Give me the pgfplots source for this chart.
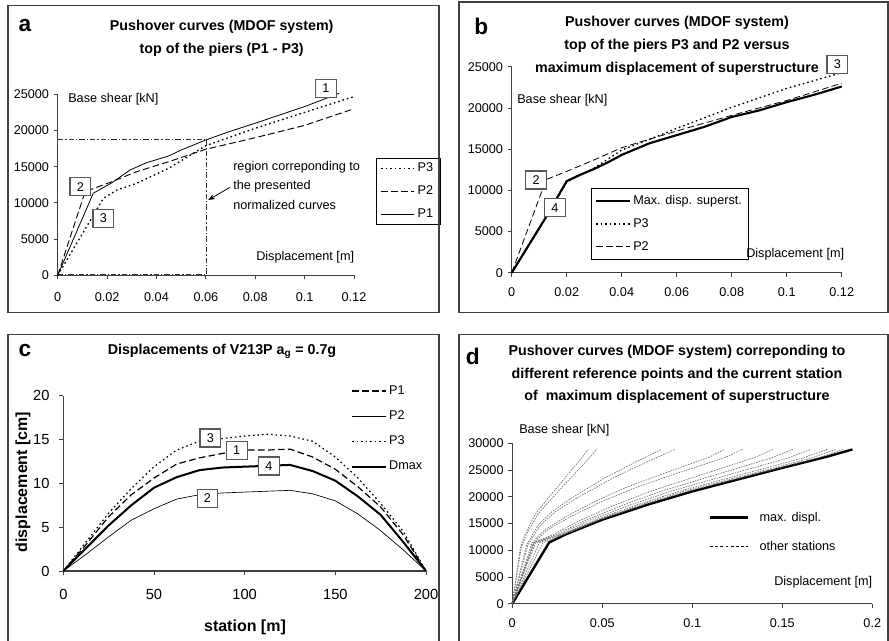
\documentclass[border=0pt]{standalone}
\usepackage{fontspec}
\setmainfont{Liberation Sans}
\usepackage{pgfplots}
\pgfplotsset{compat=1.18}
\usetikzlibrary{arrows.meta}

\newcommand\tk{\fontsize{9.5}{11}\selectfont}
\newcommand\tkc{\fontsize{11}{13}\selectfont}
\newcommand\ttl{\fontsize{10.7}{17}\selectfont\bfseries}
\newcommand\lett{\fontsize{17}{20}\selectfont\bfseries}

\pgfplotsset{
  panel/.style={
    scale only axis, anchor=south west,
    axis x line=bottom, axis y line=left,
    axis line style={-, line width=0.8pt, black!75},
    tick style={line width=0.6pt, black!75},
    tick align=outside,
    major tick length=3pt,
    enlargelimits=false,
    clip=false,
    scaled x ticks=false, scaled y ticks=false,
    tick label style={font=\tk, text=black},
    legend cell align=left,
    legend image code/.code={\draw[##1] (0pt,0pt) -- (25pt,0pt);},
  },
  other/.style={black!55, line width=0.5pt, dash pattern=on 1.2pt off 0.8pt, forget plot},
  dleg/.style={legend image code/.code={\draw[##1] (0pt,0pt) -- (28.5pt,0pt); \path (34pt,0pt);}},
}
\tikzset{boxlab/.style={draw=black!65, fill=white, line width=0.8pt, minimum width=15.5pt, minimum height=13.5pt, inner sep=0pt, font=\tk}}

\begin{document}
\begin{tikzpicture}

% ---------------- panel a ----------------
\begin{axis}[panel, at={(43.3pt,274.3pt)}, width=222.2pt, height=135.75pt,
  xmin=0, xmax=0.12, ymin=0, ymax=25000,
  xtick={0,0.02,0.04,0.06,0.08,0.1,0.12}, xticklabels={0,0.02,0.04,0.06,0.08,0.1,0.12},
  ytick={0,5000,10000,15000,20000,25000}, yticklabels={0,5000,10000,15000,20000,25000},
  xticklabel style={yshift=-6.8pt},
  legend style={at={(1.0743,0.648)}, anchor=north west, draw=black, line width=0.6pt, fill=white, font=\tk, row sep=5pt, inner xsep=3pt, inner ysep=1.5pt},
]
\addplot[black, line width=1pt, dash pattern=on 1.2pt off 2.2pt] coordinates {
 (0,0) (0.0185,10630) (0.024,11780) (0.032,12710) (0.045,14780) (0.06,17900) (0.08,20300) (0.1,22500) (0.12,24680)};
\addlegendentry{P3}
\addplot[black, line width=0.7pt, dash pattern=on 5pt off 2.5pt] coordinates {
 (0,0) (0.0111,11550) (0.022,12930) (0.032,14310) (0.045,15690) (0.06,17400) (0.08,19000) (0.1,20700) (0.12,23000)};
\addlegendentry{P2}
\addplot[black, line width=0.6pt] coordinates {
 (0,0) (0.0144,11330) (0.022,12790) (0.0293,14540) (0.036,15550) (0.045,16480) (0.05,17300) (0.06,18690) (0.07,19900) (0.08,21000) (0.09,22150) (0.1,23300) (0.11,24600) (0.114,25140)};
\addlegendentry{P1}
\addplot[black!80, line width=0.6pt, dash pattern=on 4pt off 1.5pt on 1pt off 1.5pt, forget plot] coordinates {
 (0,140) (0.0603,140) (0.0603,18700) (0,18700) (0,140)};
\end{axis}

% ---------------- panel b ----------------
\begin{axis}[panel, at={(383.8pt,276.2pt)}, width=247.5pt, height=154.5pt,
  xmin=0, xmax=0.12, ymin=0, ymax=25000,
  xtick={0,0.02,0.04,0.06,0.08,0.1,0.12}, xticklabels={0,0.02,0.04,0.06,0.08,0.1,0.12},
  ytick={0,5000,10000,15000,20000,25000}, yticklabels={0,5000,10000,15000,20000,25000},
  xticklabel style={yshift=-4.8pt},
  legend style={at={(0.2394,0.4112)}, anchor=north west, draw=black, line width=0.6pt, fill=white, font=\tk, row sep=4.8pt, inner xsep=3pt, inner ysep=3.5pt},
]
\addplot[black, line width=1.6pt] coordinates {
 (0,0) (0.0118,6390) (0.02,11120) (0.025,11900) (0.03,12600) (0.035,13400) (0.04,14300) (0.05,15700) (0.06,16700) (0.07,17700) (0.08,18900) (0.09,19700) (0.1,20700) (0.11,21600) (0.12,22600)};
\addlegendentry{Max. disp. superst.}
\addplot[black, line width=1pt, dash pattern=on 1.2pt off 2.2pt] coordinates {
 (0,0) (0.012,6400) (0.02,11000) (0.03,12700) (0.04,14890) (0.05,16180) (0.06,17520) (0.08,20070) (0.1,22370) (0.12,24270)};
\addlegendentry{P3}
\addplot[black, line width=0.6pt, dash pattern=on 5pt off 2.5pt] coordinates {
 (0,0) (0.0125,11300) (0.02,12300) (0.03,13700) (0.04,15170) (0.05,16200) (0.06,17200) (0.08,19100) (0.1,20900) (0.12,23000)};
\addlegendentry{P2}
\end{axis}

% ---------------- panel c ----------------
\begin{axis}[panel, at={(47.5pt,52.5pt)}, width=272pt, height=131.5pt,
  xmin=0, xmax=200, ymin=0, ymax=20,
  tick label style={font=\tkc},
  xticklabel style={yshift=-6.8pt},
  yticklabel style={xshift=-3.8pt},
  xtick={0,50,100,150,200}, xticklabels={0,50,100,150,200},
  ytick={0,5,10,15,20}, yticklabels={0,5,10,15,20},
  legend style={at={(0.793,1.074)}, anchor=north west, draw=none, fill=none, font=\tk, row sep=6.8pt, inner xsep=0pt, inner ysep=0pt},
]
\addplot[black, line width=0.9pt, dash pattern=on 5pt off 2.5pt] coordinates {
 (0,0) (12.5,3.0) (25,6.2) (37.5,8.7) (50,10.6) (62.5,12.2) (75,12.9) (87.5,13.4) (100,13.8) (112.5,13.8) (125,13.9) (137.5,13.0) (150,11.6) (162.5,9.6) (175,7.3) (187.5,4.1) (200,0)};
\addlegendentry{P1}
\addplot[black, line width=0.5pt] coordinates {
 (0,0) (12.5,1.9) (25,3.9) (37.5,5.8) (50,7.1) (62.5,8.2) (75,8.7) (87.5,8.9) (100,9.0) (112.5,9.1) (125,9.2) (137.5,8.8) (150,8.0) (162.5,6.5) (175,4.6) (187.5,2.4) (200,0)};
\addlegendentry{P2}
\addplot[black, line width=0.9pt, dash pattern=on 1.2pt off 2.2pt] coordinates {
 (0,0) (12.5,3.3) (25,6.6) (37.5,9.4) (50,11.9) (62.5,13.8) (75,14.8) (87.5,15.1) (100,15.4) (112.5,15.6) (125,15.4) (137.5,14.8) (150,13.0) (162.5,10.6) (175,7.7) (187.5,4.5) (200,0)};
\addlegendentry{P3}
\addplot[black, line width=1.5pt] coordinates {
 (0,0) (12.5,2.6) (25,5.2) (37.5,7.5) (50,9.5) (62.5,10.7) (75,11.5) (87.5,11.8) (100,11.9) (112.5,12.0) (125,12.1) (137.5,11.4) (150,10.3) (162.5,8.5) (175,6.4) (187.5,3.3) (200,0)};
\addlegendentry{Dmax}
\end{axis}

% ---------------- panel d ----------------
\begin{axis}[panel, dleg, at={(384.2pt,28pt)}, width=270pt, height=120.3pt,
  xmin=0, xmax=0.2, ymin=0, ymax=30000,
  xtick={0,0.05,0.1,0.15,0.2}, xticklabels={0,0.05,0.1,0.15,0.2},
  ytick={0,5000,10000,15000,20000,25000,30000}, yticklabels={0,5000,10000,15000,20000,25000,30000},
  xticklabel style={yshift=-4.5pt},
  legend style={at={(0.546,0.59)}, anchor=north west, draw=none, fill=none, font=\tk, row sep=9.5pt, inner xsep=0pt, inner ysep=0pt},
]
\addplot[black, line width=1.8pt] coordinates {
 (0,0) (0.0205,11450) (0.03,13000) (0.05,15700) (0.075,18500) (0.1,21000) (0.125,23200) (0.15,25400) (0.175,27500) (0.189,28850)};
\addlegendentry{max. displ.}
\addlegendimage{black, line width=0.6pt, dash pattern=on 2.2pt off 1.6pt}
\addlegendentry{other stations}
\addplot[other] coordinates {(0,0) (0.0045,10500) (0.007,12870) (0.0126,16630) (0.02,19770) (0.0293,23540) (0.0365,26400) (0.0422,28870)};
\addplot[other] coordinates {(0,0) (0.005,10500) (0.0078,12870) (0.014,16630) (0.0222,19770) (0.0325,23540) (0.0405,26400) (0.0469,28870)};
\addplot[other] coordinates {(0,0) (0.008,11000) (0.0144,14750) (0.022,17200) (0.033,19770) (0.0515,23540) (0.068,26400) (0.083,28870)};
\addplot[other] coordinates {(0,0) (0.0087,11000) (0.0157,14750) (0.024,17200) (0.036,19770) (0.0561,23540) (0.0741,26400) (0.0904,28870)};
\addplot[other] coordinates {(0,0) (0.011,11400) (0.018,13800) (0.031,16500) (0.047,19300) (0.0624,21600) (0.078,23600) (0.0937,25500) (0.1093,27400) (0.118,28870)};
\addplot[other] coordinates {(0,0) (0.0119,11400) (0.0195,13800) (0.0336,16500) (0.051,19300) (0.0677,21600) (0.0846,23600) (0.1017,25500) (0.1186,27400) (0.128,28870)};
\addplot[other] coordinates {(0,0) (0.012,11400) (0.0230,13000) (0.0384,15700) (0.0575,18500) (0.0767,21000) (0.0959,23100) (0.1151,25200) (0.1343,27300) (0.145,28870)};
\addplot[other] coordinates {(0,0) (0.012,11400) (0.0248,13000) (0.0413,15700) (0.0619,18500) (0.0825,21000) (0.1032,23100) (0.1238,25200) (0.1444,27300) (0.156,28870)};
\addplot[other] coordinates {(0,0) (0.012,11400) (0.0263,13000) (0.0439,15700) (0.0659,18500) (0.0878,21000) (0.1098,23100) (0.1317,25200) (0.1537,27300) (0.166,28870)};
\addplot[other] coordinates {(0,0) (0.013,11400) (0.0278,13000) (0.0463,15700) (0.0694,18500) (0.0926,21000) (0.1157,23100) (0.1389,25200) (0.1620,27300) (0.175,28870)};
\addplot[other] coordinates {(0,0) (0.015,11400) (0.0286,13000) (0.0476,15700) (0.0714,18500) (0.0952,21000) (0.1190,23100) (0.1429,25200) (0.1667,27300) (0.180,28870)};
\addplot[other] coordinates {(0,0) (0.017,11400) (0.0292,13000) (0.0487,15700) (0.0730,18500) (0.0974,21000) (0.1217,23100) (0.1460,25200) (0.1704,27300) (0.184,28870)};
\end{axis}

% ---------------- frames, titles, annotations (pixel coordinates) ----------------
\begin{scope}[x=0.75pt, y=-0.75pt, shift={(0pt,480.75pt)}]
\path[use as bounding box] (0,0) rectangle (889,641);
\draw[black!75, line width=1.1pt] (8,5.7) rectangle (439,312.7);
\draw[black!75, line width=1.1pt] (459,2) rectangle (888,312.7);
\draw[black!75, line width=1.1pt] (8,650) -- (8,334.3) -- (439,334.3) -- (439,650);
\draw[black!75, line width=1.1pt] (459,650) -- (459,334.3) -- (888,334.3) -- (888,650);

\node[font=\lett, anchor=base west, inner sep=0pt] at (18.3,31.7) {a};
\node[font=\lett, anchor=base west, inner sep=0pt] at (474,35) {b};
\node[font=\lett, anchor=base west, inner sep=0pt] at (18.3,356.7) {c};
\node[font=\lett, anchor=base west, inner sep=0pt] at (465.7,365) {d};

\node[font=\ttl, align=center] at (221.7,38) {Pushover curves (MDOF system)\\top of the piers (P1 - P3)};
\node[font=\ttl, align=center] at (677,45.8) {Pushover curves (MDOF system)\\top of the piers P3 and P2 versus\\maximum displacement of superstructure};
\node[font=\ttl] at (222,351) {Displacements of V213P a\textsubscript{g} = 0.7g};
\node[font=\ttl, align=center] at (677,374.6) {Pushover curves (MDOF system) correponding to\\different reference points and the current station\\of\ \ maximum displacement of superstructure};

% panel a annotations
\node[font=\tk, anchor=west, inner sep=0pt] at (68,99) {Base shear [kN]};
\node[font=\tk, anchor=west, inner sep=0pt] at (256,257) {Displacement [m]};
\node[font=\tk, anchor=west, inner sep=0pt] at (233,167) {region correponding to};
\node[font=\tk, anchor=west, inner sep=0pt] at (233,186) {the presented};
\node[font=\tk, anchor=west, inner sep=0pt] at (233,205) {normalized curves};
\draw[-{Stealth[length=5pt,width=4pt]}, line width=0.6pt] (230,187.3) -- (208.3,200);
\node[boxlab] at (326,88.3) {1};
\node[boxlab] at (80.3,186.7) {2};
\node[boxlab] at (103.3,218.5) {3};

% panel b annotations
\node[font=\tk, anchor=west, inner sep=0pt] at (517,100) {Base shear [kN]};
\node[font=\tk, anchor=west, inner sep=0pt] at (746,254) {Displacement [m]};
\node[boxlab] at (837.3,64.2) {3};
\node[boxlab] at (536.2,180) {2};
\node[boxlab] at (554.8,207.8) {4};

% panel c annotations
\node[font=\fontsize{12}{14}\selectfont\bfseries, rotate=90] at (23,482) {displacement [cm]};
\node[font=\fontsize{12}{14}\selectfont\bfseries] at (245,627) {station [m]};
\node[boxlab] at (210.3,438) {3};
\node[boxlab] at (236.7,450.3) {1};
\node[boxlab] at (269,466) {4};
\node[boxlab] at (207.5,498.3) {2};

% panel d annotations
\node[font=\tk, anchor=west, inner sep=0pt] at (519,430) {Base shear [kN]};
\node[font=\tk, anchor=west, inner sep=0pt] at (774,582) {Displacement [m]};
\end{scope}
\end{tikzpicture}
\end{document}
